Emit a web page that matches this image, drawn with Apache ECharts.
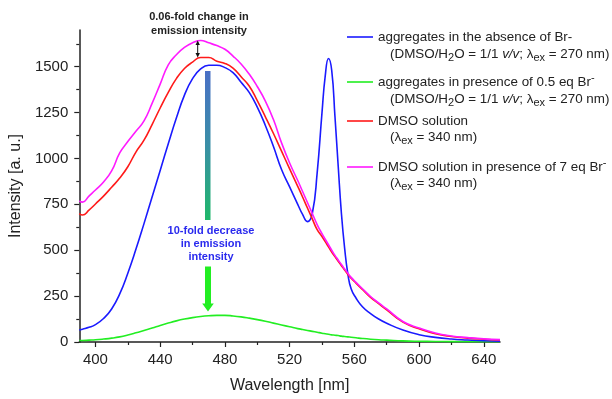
<!DOCTYPE html>
<html>
<head>
<meta charset="utf-8">
<script src="https://cdn.jsdelivr.net/npm/echarts@6/dist/echarts.min.js"></script>
<style>
html,body{margin:0;padding:0;background:#fff;}
#chart{width:612px;height:399px;}
</style>
</head>
<body>
<div id="chart"></div>
<script>
var wavelengths = [390,392,396,400,405,410,415,420,425,430,435,440,445,450,455,460,465,470,475,480,485,490,495,500,505,510,515,520,525,528,531,534,537,540,542,544,546,548,550,552,554,556,558,561,565,570,575,580,590,600,610,620,630,640,650];
var blueVals = [65,70,80,95,128,180,262,375,505,645,790,935,1080,1220,1345,1435,1488,1508,1508,1495,1468,1415,1360,1280,1180,1065,940,845,750,695,656,700,920,1250,1450,1545,1480,1230,960,700,510,370,290,240,192,155,125,102,65,40,25,16,11,7,5];
var greenVals = [8,8,10,12,16,21,28,38,50,63,76,90,103,115,125,133,139,143,145,145,142,137,130,122,113,103,93,83,73,68,63,58,53,48,45,42,39,37,35,32,30,28,26,23,19,15,12,10,6,4,3,2,2,1,1];
var redVals = [700,692,718,752,795,843,893,955,1035,1100,1185,1275,1360,1435,1490,1525,1550,1550,1530,1518,1492,1445,1395,1315,1227,1136,1040,943,848,790,730,671,612,575,547,518,490,465,440,416,392,368,348,321,286,243,209,175,108,72,45,30,21,15,11];
var magentaVals = [768,762,795,828,872,932,1030,1092,1148,1205,1300,1405,1510,1565,1605,1630,1643,1630,1615,1595,1558,1515,1460,1392,1313,1212,1085,975,880,820,760,700,640,590,560,530,500,472,447,422,398,374,352,325,290,248,213,180,112,76,49,33,24,17,13];
var seriesNames = ['aggregates in the absence of Br-','aggregates in presence of 0.5 eq Br-','DMSO solution','DMSO solution in presence of 7 eq Br-'];
var seriesColors = ['#1a1aff','#22ee22','#ff1a1a','#ff1aff'];
var xMajorTicks = [400,440,480,520,560,600,640];
var xMinorTicks = [420,460,500,540,580,620];
var yMajorTicks = [0,250,500,750,1000,1250,1500];
var yMinorTicks = [125,375,625,875,1125,1375,1625];

var FONT = 'Liberation Sans, Arial, Helvetica, sans-serif';
var chart = echarts.init(document.getElementById('chart'), null, {renderer:'canvas'});

function pairs(vals){ return wavelengths.map(function(w,i){ return [w, vals[i]]; }); }
var allVals = [blueVals, greenVals, redVals, magentaVals];

var series = seriesNames.map(function(n,i){
  return {
    name:n, type:'line', xAxisIndex:0, yAxisIndex:0,
    data: pairs(allVals[i]), showSymbol:false, smooth:0.5,
    lineStyle:{color:seriesColors[i], width:1.6}, itemStyle:{color:seriesColors[i]},
    z: 3 + (i===0 ? 2 : i)
  };
});

var LF = 13.4;
var richBase = {
  sub:{fontSize:11, lineHeight:10, verticalAlign:'bottom', fontFamily:FONT, fill:'#222', color:'#222'},
  sup:{fontSize:11, lineHeight:10, verticalAlign:'top', fontFamily:FONT, fill:'#222', color:'#222'},
  it:{fontSize:LF, lineHeight:19, fontStyle:'italic', fontFamily:FONT, fill:'#222', color:'#222'},
  n:{fontSize:LF, lineHeight:19, fontFamily:FONT, fill:'#222', color:'#222'}
};
function legText(x, y, txt){
  return {type:'text', left:x, top:y-9.5, z:50, style:{text:txt, rich:richBase, fontSize:LF, lineHeight:19, fontFamily:FONT, fill:'#222', textVerticalAlign:'top'}};
}
var legY = [37, 82, 121, 167];
var graphics = [];
legY.forEach(function(y,i){
  graphics.push({type:'line', shape:{x1:347,y1:y,x2:373,y2:y}, style:{stroke:seriesColors[i], lineWidth:1.6}, z:50});
});
graphics.push(legText(378, 37, '{n|aggregates in the absence of Br-}'));
graphics.push(legText(390, 54, '{n|(DMSO/H}{sub|2}{n|O = 1/1 }{it|v/v}{n|; λ}{sub|ex}{n| = 270 nm)}'));
graphics.push(legText(378, 82, '{n|aggregates in presence of 0.5 eq Br}{sup|-}'));
graphics.push(legText(390, 99, '{n|(DMSO/H}{sub|2}{n|O = 1/1 }{it|v/v}{n|; λ}{sub|ex}{n| = 270 nm)}'));
graphics.push(legText(378, 121, '{n|DMSO solution}'));
graphics.push(legText(390, 137, '{n|(λ}{sub|ex}{n| = 340 nm)}'));
graphics.push(legText(378, 167, '{n|DMSO solution in presence of 7 eq Br}{sup|-}'));
graphics.push(legText(390, 183, '{n|(λ}{sub|ex}{n| = 340 nm)}'));

// annotations
graphics.push({type:'text', x:199, y:17, z:50, style:{text:'0.06-fold change in', font:'bold 11px '+FONT, fill:'#222', textAlign:'center', textVerticalAlign:'middle'}});
graphics.push({type:'text', x:199, y:31, z:50, style:{text:'emission intensity', font:'bold 11px '+FONT, fill:'#222', textAlign:'center', textVerticalAlign:'middle'}});
graphics.push({type:'line', shape:{x1:197.7,y1:43,x2:197.7,y2:55}, style:{stroke:'#111', lineWidth:1}, z:50});
graphics.push({type:'polygon', shape:{points:[[197.7,40.5],[195.5,45],[199.9,45]]}, style:{fill:'#111'}, z:50});
graphics.push({type:'polygon', shape:{points:[[197.7,57.5],[195.5,53],[199.9,53]]}, style:{fill:'#111'}, z:50});
graphics.push({type:'rect', shape:{x:205,y:71,width:5.5,height:149}, z:50,
  style:{fill:new echarts.graphic.LinearGradient(0,0,0,1,[{offset:0,color:'#4a6fc6'},{offset:0.5,color:'#3a8fa6'},{offset:1,color:'#1fb86a'}])}});
['10-fold decrease','in emission','intensity'].forEach(function(t,i){
  graphics.push({type:'text', x:211, y:230.7+i*13.3, z:50, style:{text:t, font:'bold 11px '+FONT, fill:'#2a2aee', textAlign:'center', textVerticalAlign:'middle'}});
});
graphics.push({type:'polygon', z:50, shape:{points:[[205,266.5],[211,266.5],[211,303.5],[213.8,303.5],[208,311.5],[202.2,303.5],[205,303.5]]}, style:{fill:'#22ee22'}});

var axisFontStyle = {fontSize:15, color:'#222', fontFamily:FONT};
var option = {
  animation:false,
  backgroundColor:'#fff',
  grid:{left:74, right:112, top:30, bottom:52, containLabel:false},
  xAxis:[
    {type:'value', min:390, max:650, position:'bottom',
     name:'Wavelength [nm]', nameLocation:'middle', nameGap:36,
     nameTextStyle:{fontSize:16, color:'#222', fontFamily:FONT},
     axisLine:{show:true, onZero:false, lineStyle:{color:'#222', width:1.5}},
     axisTick:{show:true, customValues:xMajorTicks, length:5, lineStyle:{color:'#222', width:1.2}},
     axisLabel:Object.assign({customValues:xMajorTicks, margin:10, formatter:function(v){return String(v);}}, axisFontStyle),
     splitLine:{show:false}},
    {type:'value', min:390, max:650, position:'bottom',
     axisLine:{show:false, onZero:false},
     axisTick:{show:true, customValues:xMinorTicks, length:3, lineStyle:{color:'#222', width:1.2}},
     axisLabel:{show:false}, splitLine:{show:false}}
  ],
  yAxis:[
    {type:'value', min:0, max:1700, position:'left',
     name:'Intensity [a. u.]', nameLocation:'middle', nameGap:47,
     nameTextStyle:{fontSize:16, color:'#222', fontFamily:FONT},
     axisLine:{show:true, onZero:false, lineStyle:{color:'#222', width:1.5}},
     axisTick:{show:true, customValues:yMajorTicks, length:5, lineStyle:{color:'#222', width:1.2}},
     axisLabel:Object.assign({customValues:yMajorTicks, margin:11, formatter:function(v){return String(v);}}, axisFontStyle),
     splitLine:{show:false}},
    {type:'value', min:0, max:1700, position:'left',
     axisLine:{show:false, onZero:false},
     axisTick:{show:true, customValues:yMinorTicks, length:3, lineStyle:{color:'#222', width:1.2}},
     axisLabel:{show:false}, splitLine:{show:false}}
  ],
  series: series,
  graphic: graphics
};
chart.setOption(option);
</script>
</body>
</html>
